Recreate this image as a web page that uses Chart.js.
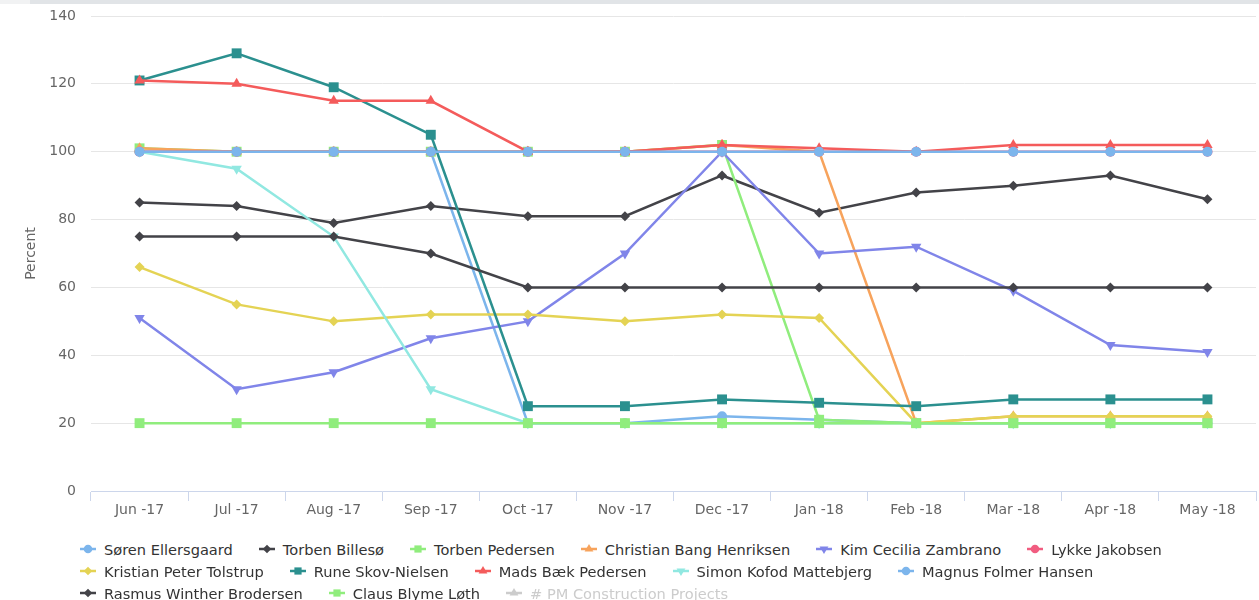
<!DOCTYPE html>
<html lang="en">
<head>
<meta charset="UTF-8">
<title>Percent</title>
<script src="https://cdn.jsdelivr.net/npm/chart.js"></script>
<style>
  body { margin:0; background:#fff; width:1259px; height:600px; overflow:hidden; position:relative; font-family:"DejaVu Sans", sans-serif; }
  #topbar-l { position:absolute; left:0; top:0; width:30px; height:4px; background:#f1f2f3; }
  #topbar { position:absolute; left:30px; top:0; right:0; height:4px; background:#e1e4e7; }
  #wrap { position:absolute; left:0; top:0; width:1259px; height:530px; }
  #legend { position:absolute; left:80px; top:538px; font-size:14.6px; color:#333; }
  .row { display:flex; height:22px; align-items:center; white-space:nowrap; }
  .item { display:flex; align-items:center; margin-right:26px; }
  .item canvas { margin-right:8px; }
  .item.off { color:#cccccc; }
</style>
</head>
<body>
<div id="topbar-l"></div>
<div id="topbar"></div>
<div id="wrap"><canvas id="myChart" width="1259" height="530"></canvas></div>
<div id="legend"></div>
<script>
// values
const months = ['Jun -17', 'Jul -17', 'Aug -17', 'Sep -17', 'Oct -17', 'Nov -17', 'Dec -17', 'Jan -18', 'Feb -18', 'Mar -18', 'Apr -18', 'May -18'];
const yTicks = [0, 20, 40, 60, 80, 100, 120, 140];

const sorenEllersgaard = [100, 100, 100, 100, 20, 20, 22, 21, 20, 20, 20, 20];
const torbenBilleso = [85, 84, 79, 84, 81, 81, 93, 82, 88, 90, 93, 86];
const torbenPedersen = [101, 100, 100, 100, 100, 100, 102, 21, 20, 20, 20, 20];
const christianBangHenriksen = [101, 100, 100, 100, 100, 100, 102, 100, 20, 22, 22, 22];
const kimCeciliaZambrano = [51, 30, 35, 45, 50, 70, 100, 70, 72, 59, 43, 41];
const lykkeJakobsen = [100, 100, 100, 100, 100, 100, 100, 100, 100, 100, 100, 100];
const kristianPeterTolstrup = [66, 55, 50, 52, 52, 50, 52, 51, 20, 22, 22, 22];
const runeSkovNielsen = [121, 129, 119, 105, 25, 25, 27, 26, 25, 27, 27, 27];
const madsBaekPedersen = [121, 120, 115, 115, 100, 100, 102, 101, 100, 102, 102, 102];
const simonKofodMattebjerg = [100, 95, 75, 30, 20, 20, 20, 20, 20, 20, 20, 20];
const magnusFolmerHansen = [100, 100, 100, 100, 100, 100, 100, 100, 100, 100, 100, 100];
const rasmusWintherBrodersen = [75, 75, 75, 70, 60, 60, 60, 60, 60, 60, 60, 60];
const clausBlymeLoth = [20, 20, 20, 20, 20, 20, 20, 20, 20, 20, 20, 20];
const pmConstructionProjects = [];

const series = [
  ['Søren Ellersgaard', sorenEllersgaard],
  ['Torben Billesø', torbenBilleso],
  ['Torben Pedersen', torbenPedersen],
  ['Christian Bang Henriksen', christianBangHenriksen],
  ['Kim Cecilia Zambrano', kimCeciliaZambrano],
  ['Lykke Jakobsen', lykkeJakobsen],
  ['Kristian Peter Tolstrup', kristianPeterTolstrup],
  ['Rune Skov-Nielsen', runeSkovNielsen],
  ['Mads Bæk Pedersen', madsBaekPedersen],
  ['Simon Kofod Mattebjerg', simonKofodMattebjerg],
  ['Magnus Folmer Hansen', magnusFolmerHansen],
  ['Rasmus Winther Brodersen', rasmusWintherBrodersen],
  ['Claus Blyme Løth', clausBlymeLoth],
  ['# PM Construction Projects', pmConstructionProjects]
];

const colors = ['#7cb5ec', '#434348', '#90ed7d', '#f7a35c', '#8085e9', '#f15c80', '#e4d354', '#2b908f', '#f45b5b', '#91e8e1'];
// circle, diamond, square, triangle, triangle-down
const symbols = [
  { style: 'circle', rot: 0, r: 5 },
  { style: 'rectRot', rot: 0, r: 5 },
  { style: 'rect', rot: 0, r: 7 },
  { style: 'triangle', rot: 0, r: 6 },
  { style: 'triangle', rot: 180, r: 6 }
];
const hiddenSeries = ['# PM Construction Projects'];
const legendBreaks = [6, 11];

const datasets = series.map((s, i) => {
  const c = colors[i % colors.length];
  const sym = symbols[i % symbols.length];
  return {
    label: s[0],
    data: s[1],
    borderColor: c,
    backgroundColor: c,
    borderWidth: 2.5,
    tension: 0,
    pointStyle: sym.style,
    pointRotation: sym.rot,
    pointRadius: sym.r,
    pointHoverRadius: sym.r,
    pointBackgroundColor: c,
    pointBorderColor: c,
    pointBorderWidth: 0,
    hidden: hiddenSeries.includes(s[0]),
    order: series.length - i
  };
});

const axisFont = { family: 'DejaVu Sans', size: 14 };

const ctx = document.getElementById('myChart');
const chart = new Chart(ctx, {
  type: 'line',
  data: { labels: months, datasets: datasets },
  options: {
    responsive: false,
    animation: false,
    layout: { autoPadding: false, padding: { top: 16, right: 3, left: 0, bottom: 0 } },
    plugins: { legend: { display: false }, tooltip: { enabled: false } },
    scales: {
      x: {
        offset: true,
        grid: { drawOnChartArea: false, drawTicks: true, tickLength: 10, color: '#ccd6eb', offset: true },
        border: { color: '#ccd6eb', width: 1 },
        ticks: { color: '#666666', font: axisFont, padding: 1, maxRotation: 0 },
        afterFit: (scale) => { scale.height = 39; scale.paddingLeft = 0; scale.paddingRight = 0; }
      },
      y: {
        min: 0,
        max: 140,
        afterBuildTicks: (scale) => { scale.ticks = yTicks.map(v => ({ value: v })); },
        grid: { color: '#e6e6e6', drawTicks: false },
        border: { display: false },
        ticks: { color: '#666666', font: axisFont, padding: 15 },
        title: { display: true, text: 'Percent', color: '#666666', font: { family: 'DejaVu Sans', size: 14 }, padding: { top: 23, bottom: 0 } },
        afterFit: (scale) => { scale.width = 91; scale.paddingTop = 0; scale.paddingBottom = 0; }
      }
    }
  }
});

// html legend like the original
function drawMarker(g, style, rot, x, y, r) {
  g.beginPath();
  if (style === 'circle') {
    g.arc(x, y, r, 0, Math.PI * 2);
  } else if (style === 'rect') {
    const h = r * Math.SQRT1_2;
    g.rect(x - h, y - h, 2 * h, 2 * h);
  } else if (style === 'rectRot') {
    g.moveTo(x, y - r); g.lineTo(x + r, y); g.lineTo(x, y + r); g.lineTo(x - r, y);
  } else if (style === 'triangle') {
    const s = rot ? -1 : 1;
    g.moveTo(x, y - s * r);
    g.lineTo(x + r * 0.866, y + s * r * 0.5);
    g.lineTo(x - r * 0.866, y + s * r * 0.5);
  }
  g.closePath();
  g.fill();
}

const legend = document.getElementById('legend');
let row = null;
chart.data.datasets.forEach((ds, i) => {
  if (i === 0 || legendBreaks.includes(i)) {
    row = document.createElement('div');
    row.className = 'row';
    legend.appendChild(row);
  }
  const item = document.createElement('div');
  item.className = 'item' + (ds.hidden ? ' off' : '');
  const cv = document.createElement('canvas');
  cv.width = 16; cv.height = 12;
  const g = cv.getContext('2d');
  const col = ds.hidden ? '#cccccc' : ds.borderColor;
  g.strokeStyle = col; g.fillStyle = col; g.lineWidth = 2.5;
  g.beginPath(); g.moveTo(0, 6); g.lineTo(16, 6); g.stroke();
  drawMarker(g, ds.pointStyle, ds.pointRotation, 8, 6, Math.min(ds.pointRadius, 6) * 0.85);
  item.appendChild(cv);
  const span = document.createElement('span');
  span.textContent = ds.label;
  item.appendChild(span);
  row.appendChild(item);
});
</script>
</body>
</html>
